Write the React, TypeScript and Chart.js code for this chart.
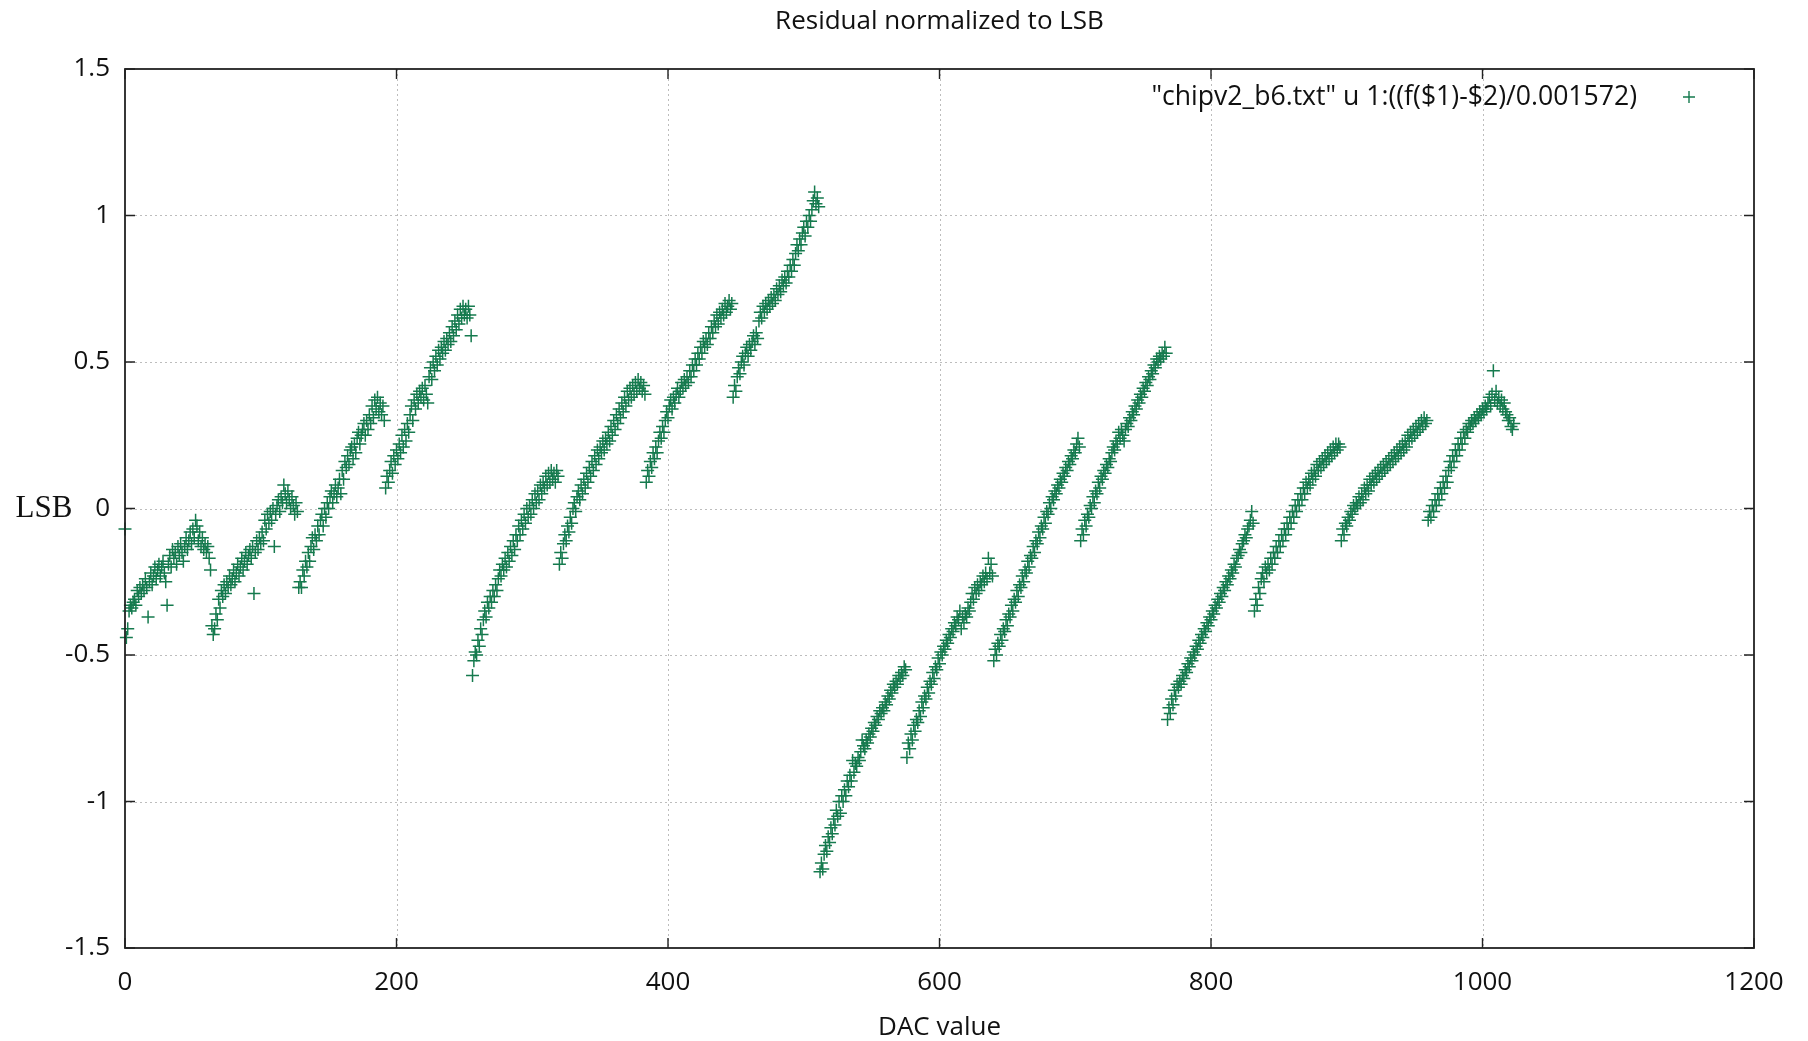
import React, { useEffect, useRef } from "react";
import { Chart, registerables } from "chart.js";

Chart.register(...registerables);

const titleText = "Residual normalized to LSB";
const xAxisLabel = "DAC value";
const yAxisLabel = "LSB";
const legendLabel = '"chipv2_b6.txt" u 1:((f($1)-$2)/0.001572)';
const xTicks = [0, 200, 400, 600, 800, 1000, 1200];
const yTicks = [-1.5, -1, -0.5, 0, 0.5, 1, 1.5];

// DAC code where each block of residuals starts
const blockStarts = [0, 64, 128, 192, 256, 320, 384, 448, 512, 576, 640, 704, 768, 832, 896, 960];

const block00 = [-0.07,-0.44,-0.41,-0.35,-0.33,-0.34,-0.32,-0.31,-0.33,-0.28,-0.30,-0.27,-0.29,-0.26,-0.28,-0.24,-0.27,-0.37,-0.25,-0.22,-0.26,-0.23,-0.20,-0.24,-0.21,-0.19,-0.23,-0.20,-0.18,-0.22,-0.25,-0.33,-0.19,-0.16,-0.20,-0.14,-0.17,-0.15,-0.19,-0.13,-0.16,-0.12,-0.15,-0.18,-0.13,-0.10,-0.14,-0.11,-0.08,-0.12,-0.07,-0.10,-0.04,-0.06,-0.11,-0.08,-0.13,-0.10,-0.14,-0.12,-0.15,-0.13,-0.17,-0.21];
const block01 = [-0.40,-0.43,-0.41,-0.36,-0.38,-0.31,-0.34,-0.28,-0.30,-0.26,-0.29,-0.25,-0.27,-0.23,-0.26,-0.24,-0.21,-0.25,-0.22,-0.19,-0.23,-0.20,-0.17,-0.21,-0.18,-0.15,-0.19,-0.16,-0.14,-0.17,-0.13,-0.29,-0.15,-0.11,-0.14,-0.10,-0.12,-0.08,-0.11,-0.04,-0.07,-0.02,-0.05,-0.01,-0.04,0.00,-0.13,-0.02,0.01,0.03,-0.01,0.04,0.02,0.08,0.05,0.02,0.06,0.03,0.00,0.04,0.01,-0.02,0.02,-0.01];
const block02 = [-0.27,-0.25,-0.27,-0.21,-0.23,-0.18,-0.20,-0.15,-0.18,-0.13,-0.10,-0.14,-0.09,-0.11,-0.06,-0.09,-0.04,-0.02,-0.06,0.00,-0.03,0.02,0.00,0.04,0.06,0.02,0.05,0.08,0.04,0.07,0.10,0.05,0.13,0.10,0.16,0.14,0.18,0.15,0.20,0.21,0.17,0.22,0.19,0.24,0.26,0.22,0.25,0.27,0.29,0.25,0.30,0.27,0.32,0.29,0.35,0.31,0.37,0.34,0.38,0.33,0.36,0.32,0.35,0.30];
const block03 = [0.07,0.11,0.09,0.13,0.16,0.12,0.18,0.15,0.20,0.17,0.22,0.19,0.25,0.21,0.27,0.23,0.29,0.26,0.32,0.35,0.30,0.37,0.34,0.39,0.36,0.40,0.38,0.41,0.37,0.42,0.39,0.36,0.45,0.48,0.44,0.50,0.47,0.52,0.49,0.54,0.51,0.55,0.53,0.57,0.54,0.58,0.56,0.60,0.57,0.62,0.59,0.64,0.61,0.66,0.63,0.68,0.65,0.69,0.66,0.68,0.65,0.69,0.66,0.59];
const block04 = [-0.57,-0.52,-0.49,-0.50,-0.45,-0.47,-0.41,-0.43,-0.38,-0.35,-0.37,-0.32,-0.34,-0.30,-0.32,-0.28,-0.30,-0.26,-0.28,-0.24,-0.21,-0.23,-0.19,-0.21,-0.17,-0.20,-0.15,-0.18,-0.13,-0.16,-0.11,-0.14,-0.09,-0.11,-0.06,-0.09,-0.04,-0.07,-0.02,-0.05,0.00,-0.03,0.01,-0.02,0.03,0.00,0.05,0.02,0.06,0.03,0.08,0.05,0.09,0.07,0.11,0.08,0.12,0.09,0.13,0.10,0.12,0.09,0.13,0.11];
const block05 = [-0.19,-0.15,-0.17,-0.12,-0.09,-0.11,-0.06,-0.08,-0.03,-0.05,0.00,0.02,-0.01,0.04,0.06,0.03,0.08,0.05,0.10,0.07,0.12,0.09,0.14,0.11,0.16,0.13,0.18,0.15,0.20,0.17,0.21,0.19,0.23,0.20,0.24,0.22,0.26,0.23,0.28,0.25,0.30,0.27,0.32,0.29,0.34,0.31,0.36,0.33,0.38,0.35,0.40,0.37,0.41,0.38,0.42,0.39,0.43,0.40,0.44,0.41,0.43,0.40,0.42,0.39];
const block06 = [0.09,0.13,0.11,0.16,0.14,0.19,0.17,0.21,0.19,0.23,0.26,0.24,0.28,0.26,0.30,0.33,0.31,0.35,0.37,0.34,0.38,0.36,0.39,0.41,0.38,0.40,0.43,0.41,0.44,0.42,0.45,0.43,0.47,0.45,0.49,0.47,0.51,0.49,0.53,0.51,0.55,0.53,0.57,0.55,0.58,0.56,0.60,0.58,0.62,0.60,0.64,0.62,0.66,0.63,0.67,0.65,0.68,0.66,0.70,0.67,0.69,0.71,0.68,0.70];
const block07 = [0.38,0.42,0.40,0.45,0.48,0.46,0.50,0.52,0.49,0.53,0.55,0.52,0.56,0.54,0.57,0.59,0.56,0.60,0.58,0.64,0.67,0.65,0.69,0.67,0.70,0.68,0.71,0.69,0.72,0.70,0.73,0.71,0.75,0.73,0.76,0.74,0.78,0.76,0.79,0.77,0.81,0.79,0.83,0.81,0.85,0.83,0.87,0.90,0.88,0.92,0.90,0.94,0.96,0.93,0.98,0.96,1.00,0.98,1.02,1.05,1.08,1.04,1.06,1.03];
const block08 = [-1.24,-1.21,-1.23,-1.18,-1.15,-1.17,-1.12,-1.14,-1.09,-1.11,-1.06,-1.08,-1.03,-1.05,-1.00,-1.04,-0.98,-1.00,-0.96,-0.98,-0.93,-0.95,-0.91,-0.93,-0.86,-0.90,-0.87,-0.88,-0.85,-0.86,-0.83,-0.79,-0.81,-0.82,-0.79,-0.80,-0.77,-0.78,-0.75,-0.76,-0.73,-0.74,-0.71,-0.72,-0.69,-0.70,-0.68,-0.69,-0.66,-0.67,-0.64,-0.65,-0.62,-0.63,-0.60,-0.61,-0.59,-0.60,-0.57,-0.58,-0.56,-0.57,-0.54,-0.55];
const block09 = [-0.85,-0.80,-0.82,-0.77,-0.79,-0.74,-0.76,-0.72,-0.73,-0.69,-0.71,-0.66,-0.68,-0.64,-0.65,-0.61,-0.63,-0.59,-0.60,-0.56,-0.58,-0.54,-0.55,-0.51,-0.53,-0.49,-0.50,-0.47,-0.48,-0.45,-0.46,-0.43,-0.44,-0.41,-0.42,-0.39,-0.40,-0.37,-0.38,-0.35,-0.41,-0.37,-0.39,-0.36,-0.37,-0.34,-0.35,-0.32,-0.29,-0.31,-0.27,-0.29,-0.26,-0.28,-0.25,-0.26,-0.23,-0.25,-0.22,-0.24,-0.17,-0.22,-0.19,-0.23];
const block10 = [-0.52,-0.48,-0.50,-0.46,-0.47,-0.43,-0.45,-0.41,-0.42,-0.38,-0.40,-0.36,-0.37,-0.33,-0.35,-0.31,-0.32,-0.28,-0.30,-0.26,-0.27,-0.23,-0.25,-0.21,-0.22,-0.18,-0.20,-0.16,-0.17,-0.13,-0.15,-0.11,-0.12,-0.08,-0.10,-0.06,-0.07,-0.03,-0.05,-0.01,-0.02,0.02,0.00,0.04,0.03,0.06,0.05,0.08,0.07,0.10,0.09,0.12,0.11,0.14,0.13,0.16,0.15,0.18,0.17,0.20,0.19,0.22,0.24,0.21];
const block11 = [-0.11,-0.07,-0.09,-0.04,-0.06,-0.02,-0.03,0.01,0.00,0.04,0.02,0.06,0.05,0.09,0.07,0.11,0.10,0.13,0.12,0.15,0.14,0.17,0.16,0.19,0.21,0.20,0.23,0.22,0.26,0.24,0.27,0.25,0.23,0.27,0.29,0.28,0.31,0.30,0.33,0.32,0.35,0.34,0.37,0.36,0.39,0.38,0.41,0.40,0.43,0.42,0.45,0.44,0.47,0.46,0.49,0.48,0.51,0.50,0.52,0.51,0.53,0.52,0.55,0.53];
const block12 = [-0.72,-0.68,-0.70,-0.65,-0.67,-0.62,-0.64,-0.60,-0.61,-0.59,-0.60,-0.57,-0.58,-0.55,-0.56,-0.53,-0.54,-0.51,-0.52,-0.49,-0.50,-0.47,-0.48,-0.45,-0.46,-0.43,-0.44,-0.41,-0.42,-0.39,-0.40,-0.37,-0.38,-0.35,-0.36,-0.33,-0.34,-0.31,-0.32,-0.29,-0.30,-0.27,-0.28,-0.25,-0.26,-0.23,-0.24,-0.21,-0.22,-0.19,-0.20,-0.17,-0.16,-0.14,-0.15,-0.12,-0.11,-0.09,-0.10,-0.07,-0.06,-0.04,-0.01,-0.05];
const block13 = [-0.35,-0.31,-0.33,-0.27,-0.29,-0.24,-0.22,-0.25,-0.20,-0.22,-0.19,-0.21,-0.17,-0.19,-0.15,-0.17,-0.13,-0.15,-0.11,-0.13,-0.09,-0.11,-0.07,-0.09,-0.05,-0.07,-0.03,-0.05,-0.01,-0.03,0.01,-0.01,0.03,0.01,0.05,0.03,0.07,0.05,0.09,0.07,0.10,0.08,0.12,0.10,0.13,0.11,0.15,0.13,0.16,0.14,0.17,0.15,0.18,0.16,0.19,0.17,0.20,0.18,0.21,0.19,0.22,0.20,0.22,0.21];
const block14 = [-0.11,-0.07,-0.09,-0.05,-0.06,-0.03,-0.04,-0.01,-0.02,0.01,0.00,0.02,0.01,0.04,0.02,0.05,0.03,0.07,0.05,0.08,0.06,0.10,0.08,0.11,0.09,0.12,0.10,0.13,0.11,0.14,0.12,0.15,0.13,0.16,0.14,0.17,0.15,0.18,0.16,0.19,0.17,0.20,0.18,0.21,0.19,0.22,0.20,0.23,0.21,0.25,0.23,0.26,0.24,0.27,0.25,0.28,0.26,0.29,0.27,0.30,0.28,0.31,0.29,0.30];
const block15 = [-0.04,-0.01,-0.03,0.01,-0.01,0.03,0.01,0.05,0.03,0.07,0.05,0.09,0.07,0.11,0.09,0.13,0.16,0.14,0.18,0.16,0.20,0.18,0.22,0.20,0.24,0.22,0.26,0.24,0.27,0.26,0.29,0.28,0.30,0.29,0.31,0.30,0.32,0.31,0.33,0.32,0.34,0.33,0.35,0.34,0.36,0.38,0.35,0.39,0.47,0.37,0.40,0.36,0.38,0.35,0.37,0.34,0.36,0.33,0.32,0.30,0.31,0.28,0.27,0.29];

const residualBlocks = [block00, block01, block02, block03, block04, block05, block06, block07, block08, block09, block10, block11, block12, block13, block14, block15];

const POINT_COLOR = "#157a4e";
const SANS = "'Open Sans', 'Liberation Sans', sans-serif";
const FONT_SIZE = 26;

const framePlugin = {
  id: "gnuplotFrame",
  beforeDatasetsDraw(chart: any) {
    const { ctx, chartArea, scales } = chart;
    const { left, right, top, bottom } = chartArea;
    ctx.save();
    ctx.strokeStyle = "#bdbdbd";
    ctx.lineWidth = 1;
    ctx.setLineDash([2, 3]);
    xTicks.forEach((t) => {
      const px = Math.round(scales.x.getPixelForValue(t)) + 0.5;
      if (px <= left + 1 || px >= right - 1) return;
      ctx.beginPath();
      ctx.moveTo(px, top);
      ctx.lineTo(px, bottom);
      ctx.stroke();
    });
    yTicks.forEach((t) => {
      const py = Math.round(scales.y.getPixelForValue(t)) + 0.5;
      if (py <= top + 1 || py >= bottom - 1) return;
      ctx.beginPath();
      ctx.moveTo(left, py);
      ctx.lineTo(right, py);
      ctx.stroke();
    });
    ctx.restore();
  },
  afterDraw(chart: any) {
    const { ctx, chartArea, scales } = chart;
    const { left, right, top, bottom } = chartArea;
    const tl = 10;
    ctx.save();
    ctx.setLineDash([]);
    ctx.strokeStyle = "#222";
    ctx.lineWidth = 1.8;
    ctx.strokeRect(left, top, right - left, bottom - top);
    ctx.lineWidth = 1.4;
    xTicks.forEach((t) => {
      const px = scales.x.getPixelForValue(t);
      ctx.beginPath();
      ctx.moveTo(px, bottom);
      ctx.lineTo(px, bottom - tl);
      ctx.moveTo(px, top);
      ctx.lineTo(px, top + tl);
      ctx.stroke();
    });
    yTicks.forEach((t) => {
      const py = scales.y.getPixelForValue(t);
      ctx.beginPath();
      ctx.moveTo(left, py);
      ctx.lineTo(left + tl, py);
      ctx.moveTo(right, py);
      ctx.lineTo(right - tl, py);
      ctx.stroke();
    });

    // title
    ctx.fillStyle = "#111";
    ctx.font = `${FONT_SIZE}px ${SANS}`;
    ctx.textAlign = "center";
    ctx.textBaseline = "middle";
    ctx.fillText(titleText, (left + right) / 2, 22);
    // x axis label
    ctx.fillText(xAxisLabel, (left + right) / 2, 1028);
    // y axis label (serif, horizontal)
    ctx.font = "31px 'Liberation Serif', 'DejaVu Serif', serif";
    ctx.fillText(yAxisLabel, 44, 509);
    // legend
    ctx.font = `${FONT_SIZE + 0.6}px ${SANS}`;
    ctx.textAlign = "right";
    ctx.fillText(legendLabel, 1637, 97);
    const mx = 1689;
    const my = 97;
    ctx.strokeStyle = POINT_COLOR;
    ctx.lineWidth = 1.4;
    ctx.beginPath();
    ctx.moveTo(mx - 6, my);
    ctx.lineTo(mx + 6, my);
    ctx.moveTo(mx, my - 6);
    ctx.lineTo(mx, my + 6);
    ctx.stroke();
    ctx.restore();
  },
};

export default function App() {
  const canvasRef = useRef<HTMLCanvasElement | null>(null);

  useEffect(() => {
    const canvas = canvasRef.current;
    if (!canvas) return;
    const points = residualBlocks.flatMap((block, bi) =>
      block.map((v, i) => ({ x: blockStarts[bi] + i, y: v }))
    );
    const chart = new Chart(canvas, {
      type: "scatter",
      data: {
        datasets: [
          {
            label: legendLabel,
            data: points,
            pointStyle: "cross",
            pointRadius: 6.5,
            pointBorderWidth: 1.5,
            borderColor: POINT_COLOR,
            backgroundColor: POINT_COLOR,
            clip: false as any,
          },
        ],
      },
      options: {
        responsive: false,
        animation: false,
        devicePixelRatio: 1,
        layout: { padding: { top: 69, right: 54, left: 0, bottom: 0 } },
        plugins: {
          legend: { display: false },
          title: { display: false },
          tooltip: { enabled: false },
        },
        scales: {
          x: {
            type: "linear",
            min: 0,
            max: 1200,
            afterFit: (scale: any) => {
              scale.height = 93;
            },
            afterBuildTicks: (scale: any) => {
              scale.ticks = xTicks.map((v) => ({ value: v }));
            },
            grid: { display: false, drawTicks: false },
            border: { display: false },
            ticks: {
              color: "#111",
              font: { family: SANS, size: FONT_SIZE },
              padding: 19,
              maxRotation: 0,
              callback: (v: any) => String(v),
            },
          },
          y: {
            type: "linear",
            min: -1.5,
            max: 1.5,
            afterFit: (scale: any) => {
              scale.width = 125;
            },
            afterBuildTicks: (scale: any) => {
              scale.ticks = yTicks.map((v) => ({ value: v }));
            },
            grid: { display: false, drawTicks: false },
            border: { display: false },
            ticks: {
              color: "#111",
              font: { family: SANS, size: FONT_SIZE },
              padding: 15,
              callback: (v: any) => String(v),
            },
          },
        },
      },
      plugins: [framePlugin],
    });
    return () => chart.destroy();
  }, []);

  return (
    <div style={{ position: "fixed", left: 0, top: 0, width: 1808, height: 1041, background: "#fff" }}>
      <canvas ref={canvasRef} width={1808} height={1041} style={{ display: "block" }} />
    </div>
  );
}
